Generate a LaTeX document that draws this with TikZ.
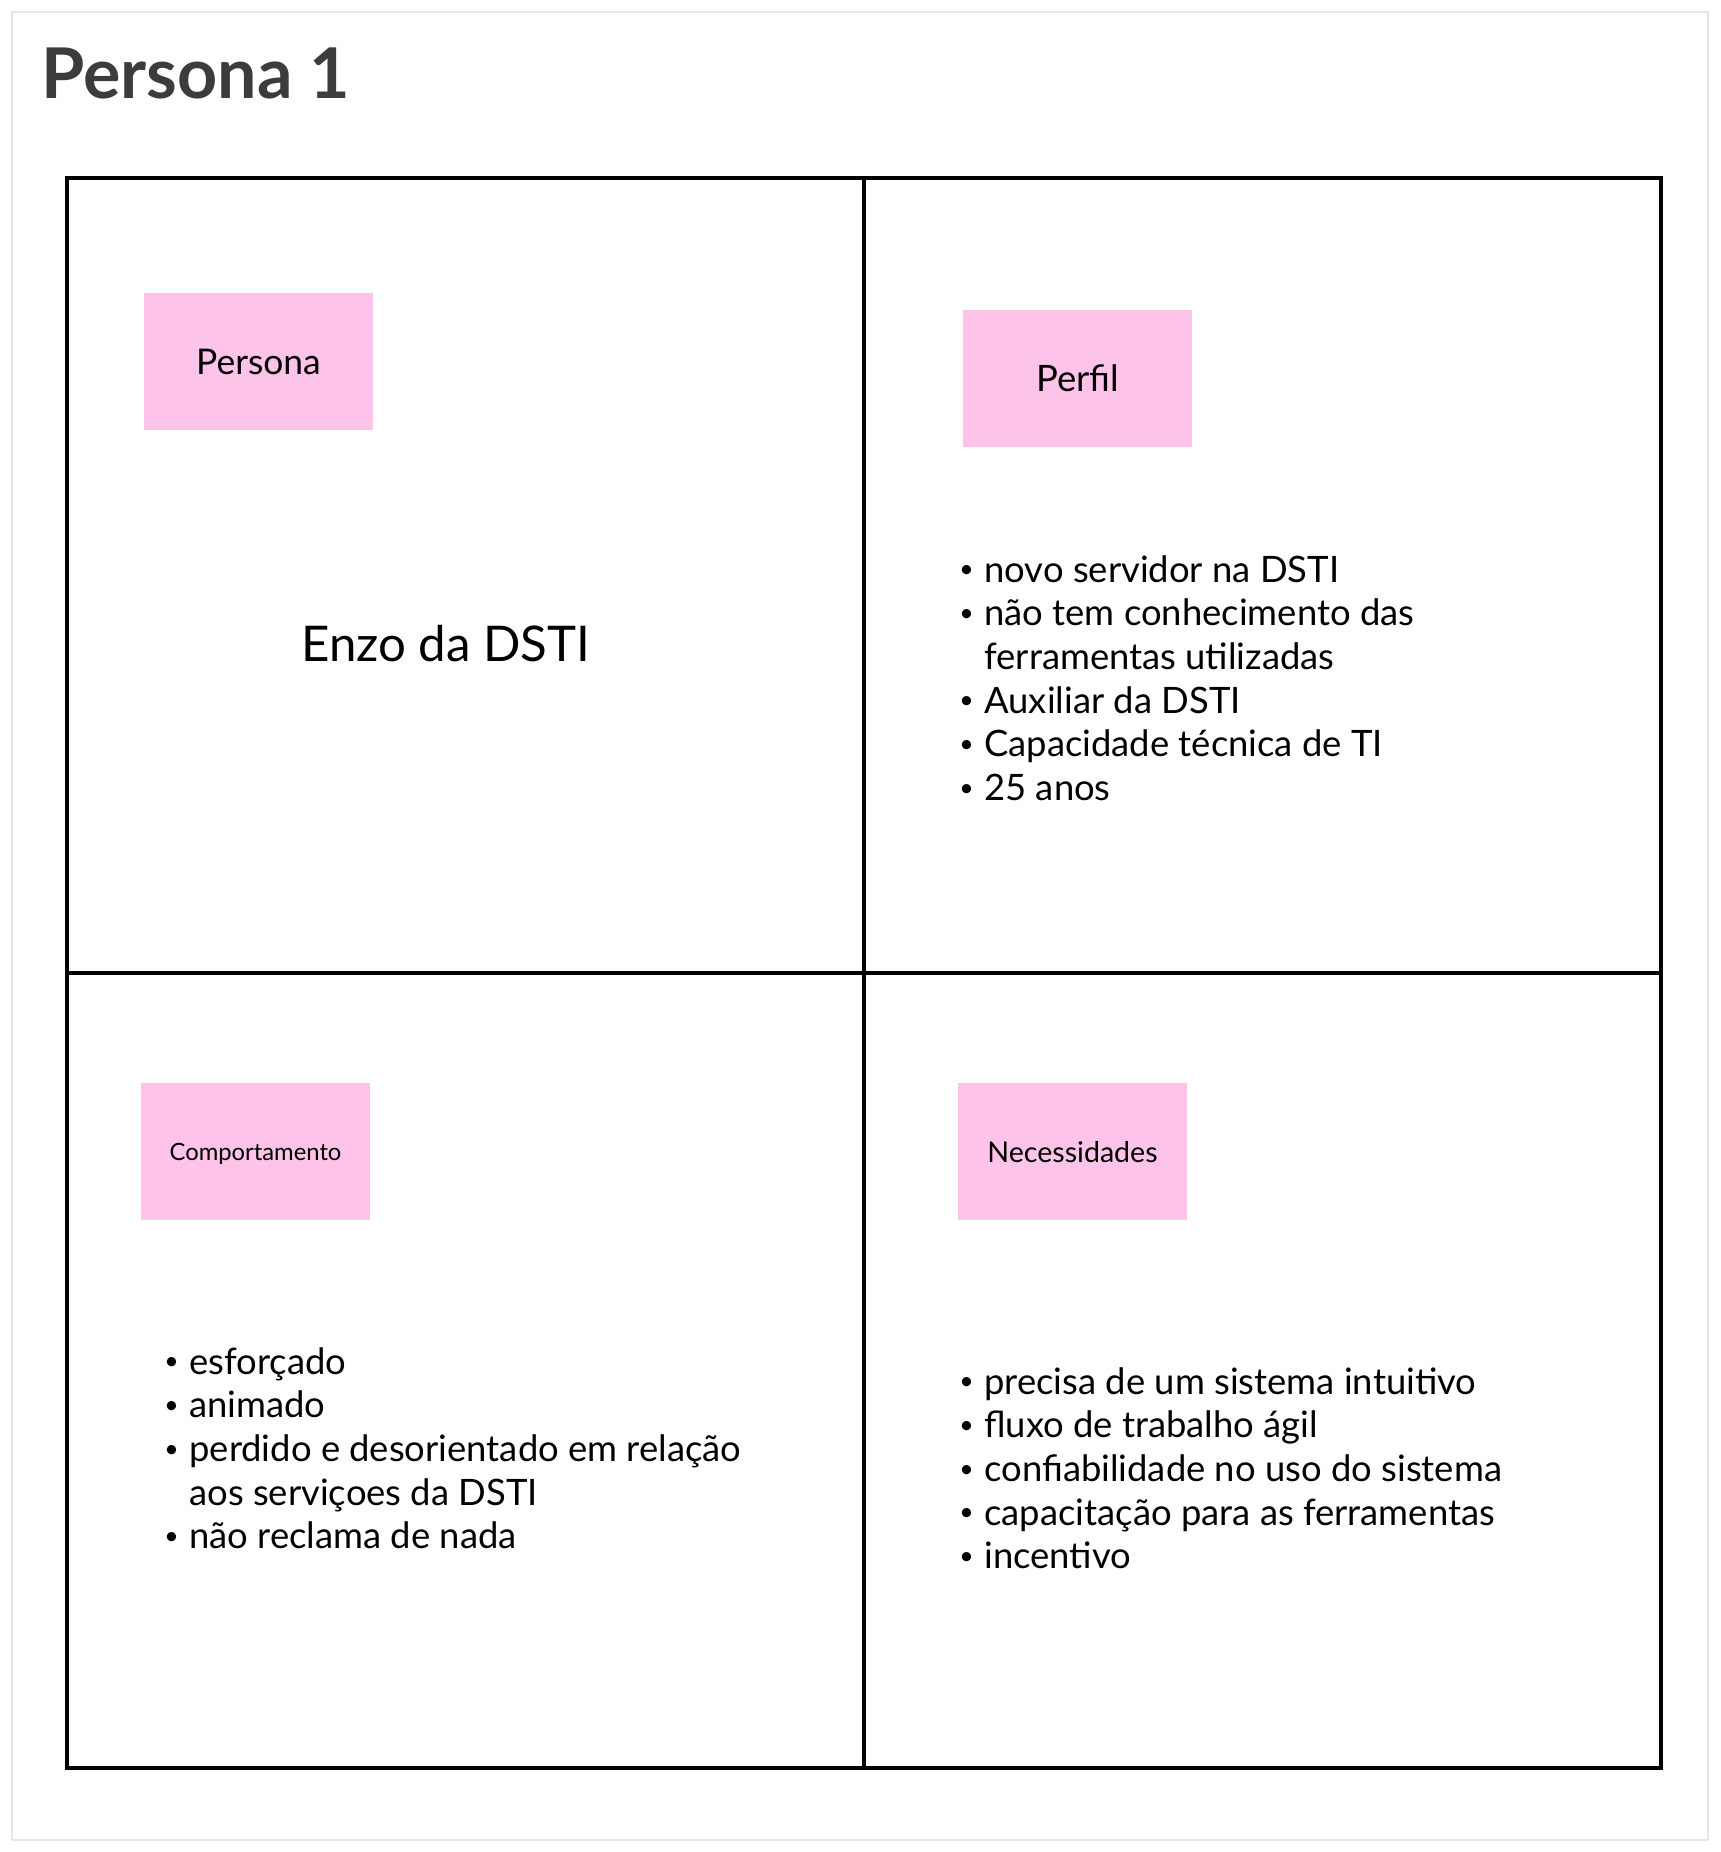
\documentclass[tikz,border=0pt]{standalone}
\usepackage{fontspec}
\setmainfont{Lato}
\usetikzlibrary{positioning}

\definecolor{notepink}{HTML}{FEC3E8}
\definecolor{framegray}{HTML}{E6E6E6}
\definecolor{titlegray}{HTML}{3C3C3C}

\tikzset{
    cell/.style={draw, line width=2pt, minimum width=398.5pt, minimum height=397.5pt, inner sep=0, outer sep=0},
    note/.style={fill=notepink, minimum width=114.5pt, minimum height=68.5pt, inner sep=0, outer sep=0, align=center, text depth=0pt},
    itemlist/.style={anchor=base west, inner sep=0, align=left, font=\fontsize{18.2}{21.85}\selectfont},
}
\newcommand{\itm}{\makebox[12pt][l]{\hspace{-0.5pt}\raisebox{0.12em}{\scalebox{0.68}{\textbullet}}}}

\begin{document}
\begin{tikzpicture}[x=0.5pt, y=-0.5pt]
        \useasboundingbox (0,0) rectangle (1720,1852);
        \fill[white] (0,0) rectangle (1720,1852);
        \draw[framegray, line width=1pt] (12,12) rectangle (1708,1840);

        \node[anchor=base west, inner sep=0, text=titlegray, font=\bfseries\fontsize{35}{42}\selectfont] (title) at (41,98) {Persona 1};

        % the four quadrants
        \node[cell, anchor=north west] (persona) at (67,178) {};
        \node[cell, right=0pt of persona] (perfil) {};
        \node[cell, below=0pt of persona] (comport) {};
        \node[cell, right=0pt of comport] (necess) {};

        % sticky notes
        \node[note, below right = 57.5pt and 38.5pt of persona.north west, font=\fontsize{17.7}{20}\selectfont] (personanote) {Persona};
        \node[note, below right = 66pt and 49.5pt of perfil.north west, font=\fontsize{18.2}{20}\selectfont] (perfilnote) {Perfil};
        \node[note, below right = 55pt and 37pt of comport.north west, font=\fontsize{11.9}{14}\selectfont] (comportnote) {Comportamento};
        \node[note, below right = 55pt and 47pt of necess.north west, font=\fontsize{14.3}{16}\selectfont] (necessnote) {Necessidades};

        \node[font=\fontsize{24.6}{30}\selectfont] (name) at (446,644) {Enzo da DSTI};

        % lists
        \node[itemlist] (perfillist) at (960,582) {\begin{tabular}[t]{@{}l@{}l@{}}
            \itm & novo servidor na DSTI\\
            \itm & não tem conhecimento das\\
                 & ferramentas utilizadas\\
            \itm & Auxiliar da DSTI\\
            \itm & Capacidade técnica de TI\\
            \itm & 25 anos
        \end{tabular}};
        \node[itemlist] (comportlist) at (165,1374) {\begin{tabular}[t]{@{}l@{}l@{}}
            \itm & esforçado\\
            \itm & animado\\
            \itm & perdido e desorientado em relação\\
                 & aos serviçoes da DSTI\\
            \itm & não reclama de nada
        \end{tabular}};
        \node[itemlist] (necesslist) at (960,1394) {\begin{tabular}[t]{@{}l@{}l@{}}
            \itm & precisa de um sistema intuitivo\\
            \itm & fluxo de trabalho ágil\\
            \itm & confiabilidade no uso do sistema\\
            \itm & capacitação para as ferramentas\\
            \itm & incentivo
        \end{tabular}};
\end{tikzpicture}
\end{document}
